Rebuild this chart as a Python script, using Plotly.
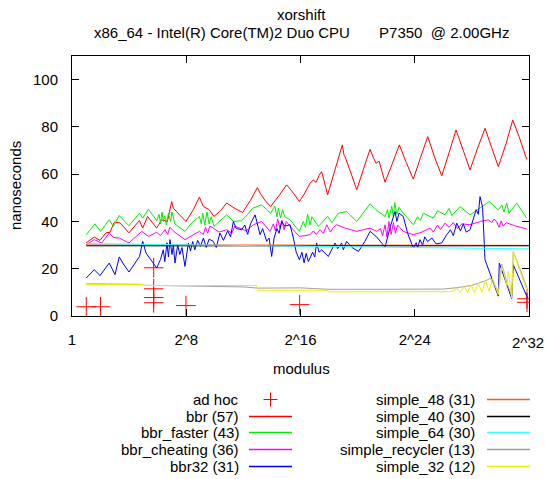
import plotly.graph_objects as go

# x values are log2(modulus), y values are nanoseconds
adhoc_e = [1.0, 2.0, 5.72, 5.72, 5.72, 5.72, 7.98, 15.94, 31.86, 31.86]
adhoc_v = [3.9, 3.9, 20.4, 11.5, 7.8, 5.6, 4.4, 4.8, 7.3, 5.8]

bbr_e = [1.0, 1.56, 1.96, 2.38, 2.66, 2.96, 3.36, 3.99, 4.72, 4.95, 5.29, 5.6, 5.93, 6.28, 6.68, 6.98,
         7.1, 7.5, 7.98, 8.5, 8.92, 9.2, 9.6, 9.94, 10.4, 10.83, 11.4, 11.95, 12.5, 12.98, 13.17, 13.5,
         13.91, 14.5, 15.03, 15.5, 15.92, 16.3, 16.67, 16.9, 17.1, 17.3, 17.48, 17.9, 18.4, 18.93, 19.05,
         19.12, 19.5, 19.94, 20.4, 20.87, 21.1, 21.29, 21.5, 21.92, 22.4, 22.92, 23.4, 23.9, 24.4, 24.91,
         25.4, 25.89, 26.4, 26.89, 27.4, 27.87, 28.4, 28.92, 29.4, 29.85, 30.4, 30.86, 31.3, 31.84]
bbr_v = [31, 33.4, 32, 35.2, 35.4, 39.7, 39.4, 35.2, 40.4, 37.2, 42.1, 39.5, 37.2, 40.7, 40, 48.4,
         45.6, 43, 40, 45, 50.3, 46.3, 45, 42.1, 44.5, 47.8, 45.5, 43.8, 49, 54.3, 52, 49,
         46.3, 51, 55.5, 52, 48.4, 52, 56.2, 57.6, 56.5, 59.5, 61.1, 51.3, 62, 72.4, 68,
         67.4, 61, 53.4, 62, 70.5, 67, 64.6, 65.5, 56.6, 64, 72.4, 65, 57.9, 67, 75.9,
         67, 59.3, 69, 78.7, 70, 61.8, 71, 79.4, 71, 63.2, 73, 82.9, 76, 66.3]

faster_e = [1.0, 1.61, 2.0, 2.61, 2.89, 3.31, 3.99, 4.72, 4.95, 5.35, 5.93, 6.1, 6.2, 6.3, 6.4, 6.5,
            6.6, 6.75, 6.9, 7.0, 7.2, 7.5, 7.91, 8.4, 8.92, 9.05, 9.15, 9.3, 9.45, 9.6, 9.75, 9.94,
            10.4, 10.83, 11.3, 11.88, 12.3, 12.65, 13.28, 13.91, 14.2, 14.35, 14.45, 14.6, 14.75, 14.9,
            15.27, 15.92, 16.2, 16.35, 16.5, 16.67, 16.8, 17.25, 17.9, 18.2, 18.65, 19.23, 19.94, 20.4,
            20.87, 21.29, 21.92, 22.1, 22.2, 22.39, 22.5, 22.6, 22.75, 22.9, 23.2, 23.9, 24.2, 24.4,
            24.6, 25.3, 25.6, 26.12, 26.4, 26.6, 27.17, 27.87, 28.5, 29.22, 29.85, 30.1, 30.25, 30.44,
            30.6, 30.8, 31.14, 31.84]
faster_v = [34.4, 39, 35.8, 40.7, 37.9, 42.5, 38.2, 43.5, 41.4, 45.2, 40.4, 43, 39, 44, 40, 42.5,
            38.5, 43.5, 40, 44, 39, 37.5, 35.8, 39.5, 42.1, 39, 43.5, 38.5, 44, 39, 42, 37.9,
            40.5, 42.8, 40, 40.3, 43, 45.6, 47, 43.5, 46.5, 42, 45.6, 41.5, 45, 42,
            40.7, 35.8, 40, 37.5, 43, 38.5, 42, 37.9, 42.1, 39.5, 43.5, 44.2, 40, 43.5,
            47.5, 44.9, 42.1, 45, 41.5, 46.5, 42, 48, 43, 46, 43.5, 38.6, 42, 40.5,
            43.5, 41.4, 44.5, 42.8, 45.5, 42.5, 46.3, 42.8, 45.5, 48.4, 44.9, 47, 44, 47.8,
            43.5, 45, 47.8, 41.4]

cheat_e = [1.0, 1.56, 2.08, 2.61, 2.9, 3.31, 3.99, 4.5, 4.88, 5.35, 5.93, 6.2, 6.51, 6.7, 6.85, 7.21,
           7.91, 8.4, 8.92, 9.2, 9.35, 9.5, 9.65, 9.89, 10.3, 10.83, 11.2, 11.4, 11.76, 12.2, 12.7,
           13.28, 13.87, 14.1, 14.25, 14.4, 14.57, 14.7, 14.85, 15.0, 15.27, 15.92, 16.3, 16.67, 16.9,
           17.1, 17.37, 17.6, 17.84, 18.1, 18.3, 18.54, 19.12, 19.94, 20.4, 20.87, 21.34, 21.6, 21.75,
           21.92, 22.05, 22.2, 22.35, 22.5, 22.65, 22.8, 23.2, 23.9, 24.5, 25.07, 25.3, 25.6, 25.8,
           26.12, 26.4, 26.7, 27.0, 27.3, 27.87, 28.3, 28.6, 29.15, 29.4, 29.55, 29.74, 29.9, 30.05,
           30.2, 30.4, 31.0, 31.84]
cheat_v = [30.2, 32.3, 30.9, 35.1, 33.2, 33, 30.9, 33.5, 35.8, 33.7, 35.4, 34, 36.5, 34.5, 37.5, 35.4,
           32.3, 34, 35.8, 34.5, 37.5, 35, 38, 37.2, 35.5, 36.5, 35, 38, 37.2, 36, 38.6,
           40, 35.8, 39, 36, 41, 37, 40.5, 36.5, 40, 37.9, 33.7, 34, 34.4, 36,
           34.5, 36.5, 35, 38.6, 35.5, 37.5, 38.6, 37.2, 35.8, 36.5, 37.2, 35.8, 37, 34,
           38.6, 33.5, 40, 34.5, 39.5, 35, 38.5, 35.8, 34.4, 35.5, 37.2, 35.5, 38.5, 36.5,
           39.3, 37.5, 39.5, 37, 39, 38.6, 39.5, 40, 40.7, 39.5, 41, 40, 37.5, 40.2,
           38, 39.5, 38.2, 36.8]

bbr32_e = [1.0, 1.56, 1.96, 2.61, 3.01, 3.31, 3.6, 3.99, 4.73, 4.95, 5.18, 5.93, 6.2, 6.39, 6.5, 6.65,
           6.75, 6.86, 7.0, 7.1, 7.21, 7.4, 7.55, 7.7, 7.91, 8.15, 8.3, 8.45, 8.6, 8.8, 9.0, 9.2,
           9.4, 9.6, 9.89, 10.1, 10.36, 10.6, 10.9, 11.1, 11.3, 11.5, 11.88, 12.1, 12.3, 12.5, 12.82,
           13.0, 13.17, 13.35, 13.63, 13.8, 13.98, 14.15, 14.35, 14.5, 14.68, 14.9, 15.27, 15.5, 15.7,
           15.92, 16.1, 16.25, 16.4, 16.55, 16.67, 16.85, 17.0, 17.13, 17.3, 17.48, 17.95, 18.2, 18.42,
           18.6, 18.88, 19.0, 19.23, 19.6, 20.06, 20.5, 20.87, 21.29, 21.92, 22.3, 22.62, 22.75, 22.9,
           23.2, 23.5, 23.9, 24.1, 24.2, 24.37, 24.55, 24.7, 24.9, 25.2, 25.5, 25.89, 26.24, 26.5,
           26.7, 26.94, 27.2, 27.4, 27.6, 27.87, 28.1, 28.3, 28.45, 28.57, 28.75, 28.85, 28.92, 29.85,
           29.92, 30.79, 30.9, 31.89]
bbr32_v = [16.1, 19.6, 17.1, 22.4, 17.5, 25, 22, 18.6, 25.2, 31.6, 26.7, 20.3, 24, 28, 23, 31,
           25, 32.3, 26, 30, 22.4, 30, 26, 29, 21, 30.9, 27.5, 31.5, 28, 32, 29.5, 33,
           29, 32.5, 31.6, 29, 35.1, 32, 36, 33.5, 40, 37, 36.5, 38.5, 34.5, 39, 42.8,
           39, 34.4, 37, 31.6, 33, 25.2, 33, 37, 35, 40, 38, 38.6, 33, 27,
           23.8, 27, 22.5, 26.5, 23, 24.6, 27, 25, 30.9, 27, 28, 25.2, 28, 30.9,
           28.5, 30.9, 28, 31.6, 29, 27.3, 31.5, 35.8, 33.7, 29.2, 38, 44.2, 40, 43.5,
           42.1, 35, 28.8, 31, 29, 32.3, 30, 33.5, 31.5, 33, 30.5, 30.9, 34.4, 36.5,
           34, 39.3, 36, 39, 35.5, 36.5, 41, 45, 43, 50.5, 46, 29.4, 23.8, 8.4,
           22.4, 7.3, 21.7, 7.7]

s48_e = [1.0, 8, 16, 24, 26, 32]
s48_v = [30.1, 30.1, 30.1, 30.0, 30.0, 29.9]

s40_e = [1.0, 8, 16, 22, 25.9, 26.1, 32]
s40_v = [29.7, 29.7, 29.6, 29.5, 29.5, 29.8, 29.7]

s64_e = [1.0, 4, 8, 16, 24, 28, 32]
s64_v = [30.6, 30.4, 30.0, 29.5, 29.0, 28.6, 28.4]

recyc_e = [1.0, 4.95, 5.0, 8, 12, 13, 16, 17, 18, 22, 26, 27, 27.5, 28, 28.5, 29, 29.3, 29.85,
           30.1, 30.45, 30.79, 30.9, 31.89]
recyc_v = [13.6, 13.4, 13.0, 12.8, 12.3, 11.8, 11.9, 11.6, 11.3, 11.3, 11.4, 12, 12.6, 13, 14, 15,
           16, 10.5, 22, 14, 8.5, 27.3, 11.5]

s32_e = [1.0, 4.95, 5.0, 12.9, 13.0, 17.9, 18.0, 26.5, 27.0, 27.2, 27.45, 27.7, 27.95, 28.2, 28.45,
         28.7, 28.95, 29.2, 29.45, 29.85, 30.1, 30.45, 30.55, 30.79, 30.9, 31.89]
s32_v = [13.3, 13.3, 12.9, 12.9, 10.9, 10.9, 10.2, 10.3, 11.5, 10, 12.5, 10, 13, 10, 14,
         10, 15, 10.5, 16, 9, 21.5, 13, 19, 7.5, 27.3, 10]

xtick_exp = [0, 8, 16, 24, 32]
xtick_text = ["1", "2^8", "2^16", "2^24", "2^32"]

series = [
    ("bbr (57)", bbr_e, bbr_v, "#ff0000"),
    ("bbr_faster (43)", faster_e, faster_v, "#00ee00"),
    ("bbr_cheating (36)", cheat_e, cheat_v, "#ff00ff"),
    ("bbr32 (31)", bbr32_e, bbr32_v, "#0000ff"),
    ("simple_48 (31)", s48_e, s48_v, "#ff5a20"),
    ("simple_40 (30)", s40_e, s40_v, "#000000"),
    ("simple_64 (30)", s64_e, s64_v, "#33ffff"),
    ("simple_recycler (13)", recyc_e, recyc_v, "#a0a0a0"),
    ("simple_32 (12)", s32_e, s32_v, "#eeee00"),
]

W, H = 545, 479
L, R, T, B = 72, 529, 56, 316
FONT = "Liberation Sans, Arial, sans-serif"
FS = 15


def px(x):
    return (x - L) / (R - L)


def py(y):
    return (B - y) / (B - T)


fig = go.Figure()

fig.add_trace(go.Scatter(
    x=[2 ** e for e in adhoc_e], y=adhoc_v, mode="markers", name="ad hoc",
    marker=dict(symbol="cross-thin", size=14, line=dict(width=1, color="#ff0000")),
    showlegend=False,
))
for name, xs, ys, col in series:
    fig.add_trace(go.Scatter(
        x=[2 ** e for e in xs], y=ys, mode="lines", name=name,
        line=dict(color=col, width=1), showlegend=False,
    ))

# gnuplot-style key: text right aligned, sample to the right
shapes = []
annotations = []
col1 = ["ad hoc"] + [s[0] for s in series[:4]]
col1_colors = [None] + [s[3] for s in series[:4]]
col2 = [s[0] for s in series[4:]]
col2_colors = [s[3] for s in series[4:]]
row_y = [399.5, 416.5, 432.5, 449.5, 466.5]

for texts, colors, tx, lx0, lx1 in [(col1, col1_colors, 240.5, 249, 292), (col2, col2_colors, 477, 487, 530)]:
    for i, (t, c) in enumerate(zip(texts, colors)):
        yy = row_y[i]
        annotations.append(dict(
            x=px(tx), y=py(yy), xref="paper", yref="paper", text=t, showarrow=False,
            xanchor="right", yanchor="middle", font=dict(size=FS, color="black", family=FONT),
        ))
        if c is None:
            cx = 270.5
            shapes.append(dict(type="line", xref="paper", yref="paper",
                               x0=px(cx - 7), x1=px(cx + 7), y0=py(yy), y1=py(yy),
                               line=dict(color="#ff0000", width=1)))
            shapes.append(dict(type="line", xref="paper", yref="paper",
                               x0=px(cx), x1=px(cx), y0=py(yy - 7), y1=py(yy + 7),
                               line=dict(color="#ff0000", width=1)))
        else:
            shapes.append(dict(type="line", xref="paper", yref="paper",
                               x0=px(lx0), x1=px(lx1), y0=py(yy), y1=py(yy),
                               line=dict(color=c, width=1.3)))

annotations.append(dict(
    x=px(301), y=py(15), xref="paper", yref="paper", text="xorshift", showarrow=False,
    xanchor="center", yanchor="middle", font=dict(size=FS, color="black", family=FONT),
))
annotations.append(dict(
    x=px(301), y=py(32), xref="paper", yref="paper",
    text="x86_64 - Intel(R) Core(TM)2 Duo CPU" + "\u00a0" * 7 + "P7350\u00a0\u00a0@ 2.00GHz",
    showarrow=False, xanchor="center", yanchor="middle",
    font=dict(size=FS, color="black", family=FONT),
))
annotations.append(dict(
    x=px(301), y=py(368), xref="paper", yref="paper", text="modulus", showarrow=False,
    xanchor="center", yanchor="middle", font=dict(size=FS, color="black", family=FONT),
))
annotations.append(dict(
    x=px(15), y=py(186), xref="paper", yref="paper", text="nanoseconds", showarrow=False,
    textangle=-90, xanchor="center", yanchor="middle",
    font=dict(size=FS, color="black", family=FONT),
))
# last x tick label sits flush with the right edge, so it is placed by hand
annotations.append(dict(
    x=px(545), y=py(342), xref="paper", yref="paper", text=xtick_text[-1], showarrow=False,
    xanchor="right", yanchor="middle", borderpad=0,
    font=dict(size=FS, color="black", family=FONT),
))

fig.update_layout(
    width=W, height=H,
    margin=dict(l=L, r=W - R, t=T, b=H - B, pad=0),
    paper_bgcolor="white", plot_bgcolor="white",
    font=dict(family=FONT, size=FS, color="black"),
    showlegend=False,
    shapes=shapes,
    annotations=annotations,
)
fig.update_xaxes(
    type="log", range=[0, 32 * 0.30103], showgrid=False, zeroline=False,
    showline=True, linecolor="black", linewidth=1, mirror="ticks",
    ticks="inside", ticklen=7, tickcolor="black",
    tickvals=[2 ** e for e in xtick_exp], ticktext=xtick_text[:-1] + [""],
    ticklabelstandoff=10,
)
fig.update_yaxes(
    range=[0, 110], dtick=20, tick0=0, showgrid=False, zeroline=False,
    showline=True, linecolor="black", linewidth=1, mirror="ticks",
    ticks="inside", ticklen=7, tickcolor="black",
    ticklabelstandoff=10,
)

fig.write_html(
    "out.html",
    config={"displayModeBar": False},
    post_script="document.body.style.margin='0';document.body.style.overflow='hidden';",
)
